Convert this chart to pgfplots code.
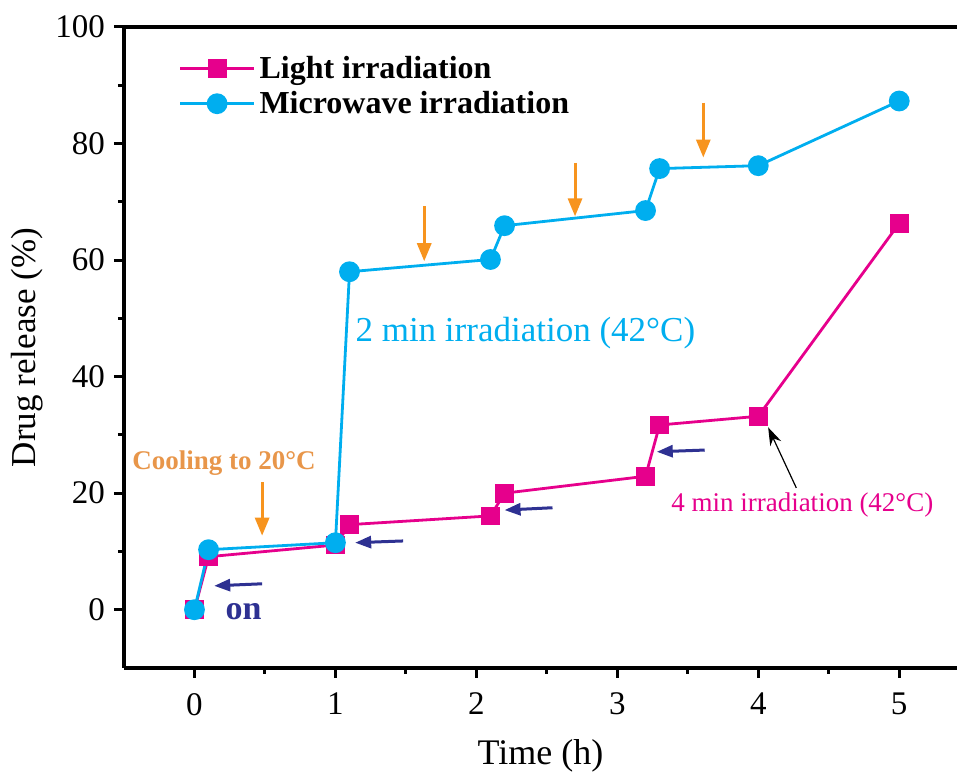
\documentclass[border=0pt]{standalone}
\usepackage{fontspec}
\setmainfont{Liberation Serif}
\usepackage{pgfplots}
\pgfplotsset{compat=1.18}
\usetikzlibrary{arrows.meta}

\definecolor{lightpink}{HTML}{E6008C}
\definecolor{mwcyan}{HTML}{00AEEF}
\definecolor{arrorange}{HTML}{F7941E}
\definecolor{txtorange}{HTML}{E8964A}
\definecolor{navy}{HTML}{2E3192}

\tikzset{
  cool/.style={arrorange, line width=1.5pt, -{Triangle[length=9pt, width=7pt]}},
  on/.style={navy, line width=1.5pt, -{Triangle[length=8pt, width=6pt]}},
}

\begin{document}
\begin{tikzpicture}
\useasboundingbox (-62pt,-53pt) rectangle (416.5pt,334pt);
\begin{axis}[
  scale only axis,
  width=416.5pt, height=320.5pt,
  xmin=-0.5, xmax=5.41,
  ymin=-10, ymax=100,
  axis x line*=box,
  axis y line*=left,
  axis line style={line width=1.6pt},
  xtick={0,1,2,3,4,5},
  ytick={0,20,40,60,80,100},
  minor x tick num=1,
  minor y tick num=1,
  xtick pos=bottom,
  ytick pos=left,
  tick align=outside,
  major tick length=5pt,
  minor tick length=3pt,
  every tick/.style={line width=1.5pt, black},
  tick label style={font=\fontsize{16.5}{19}\selectfont},
  xticklabel style={yshift=-4pt},
  yticklabel style={xshift=-1pt},
  /pgf/number format/assume math mode=true,
  xlabel={Time (h)},
  ylabel={Drug release (\%)},
  xlabel style={font=\fontsize{18}{21}\selectfont, yshift=-5pt},
  ylabel style={font=\fontsize{17.5}{20}\selectfont, yshift=-0.5pt},
  legend style={draw=none, fill=none, at={(0.058,0.968)}, anchor=north west,
    font=\fontsize{16}{19}\selectfont\bfseries, row sep=1pt},
  legend cell align=left,
  legend image code/.code={
    \draw[#1, mark repeat=2, mark phase=2] plot coordinates {(0pt,0pt) (18.5pt,0pt) (37pt,0pt)};
  },
  clip=false,
]
\addplot[color=lightpink, line width=1.4pt, mark=square*, mark size=4pt,
  mark options={solid, fill=lightpink}] coordinates {
  (0,0) (0.1,9.1) (1,11.1) (1.1,14.6) (2.1,16.1) (2.2,20.0)
  (3.2,22.9) (3.3,31.7) (4,33.2) (5,66.3)
};
\addlegendentry{Light irradiation}
\addplot[color=mwcyan, line width=1.4pt, mark=*, mark size=4.5pt,
  mark options={solid, fill=mwcyan}] coordinates {
  (0,0) (0.1,10.3) (1,11.5) (1.1,58.0) (2.1,60.1) (2.2,65.9)
  (3.2,68.5) (3.3,75.7) (4,76.2) (5,87.3)
};
\addlegendentry{Microwave irradiation}

% cooling arrows
\draw[cool] (axis cs:0.48,21.9) -- (axis cs:0.48,12.7);
\draw[cool] (axis cs:1.63,69.2) -- (axis cs:1.63,59.8);
\draw[cool] (axis cs:2.70,76.7) -- (axis cs:2.70,67.5);
\draw[cool] (axis cs:3.61,87.0) -- (axis cs:3.61,77.6);
% irradiation-on arrows
\draw[on] (axis cs:0.48,4.45) -- (axis cs:0.14,4.1);
\draw[on] (axis cs:1.48,11.8) -- (axis cs:1.14,11.5);
\draw[on] (axis cs:2.54,17.5) -- (axis cs:2.20,17.1);
\draw[on] (axis cs:3.62,27.4) -- (axis cs:3.28,27.1);
\draw[black, line width=0.6pt, -{Stealth[length=9pt, width=6pt]}]
  (axis cs:4.27,20.9) -- (axis cs:4.07,31.3);

\node[txtorange, font=\fontsize{13.5}{16}\selectfont\bfseries] at (axis cs:0.21,25.2) {Cooling to 20°C};
\node[navy, font=\fontsize{17}{20}\selectfont\bfseries, anchor=base west] at (axis cs:0.17,-1.6) {on};
\node[mwcyan, font=\fontsize{17.5}{20}\selectfont, anchor=west, inner sep=0pt] at (axis cs:1.14,47.4) {2 min irradiation (42°C)};
\node[lightpink, font=\fontsize{13.5}{16}\selectfont, anchor=west, inner sep=0pt] at (axis cs:3.38,18.0) {4 min irradiation (42°C)};
\end{axis}
\end{tikzpicture}
\end{document}
